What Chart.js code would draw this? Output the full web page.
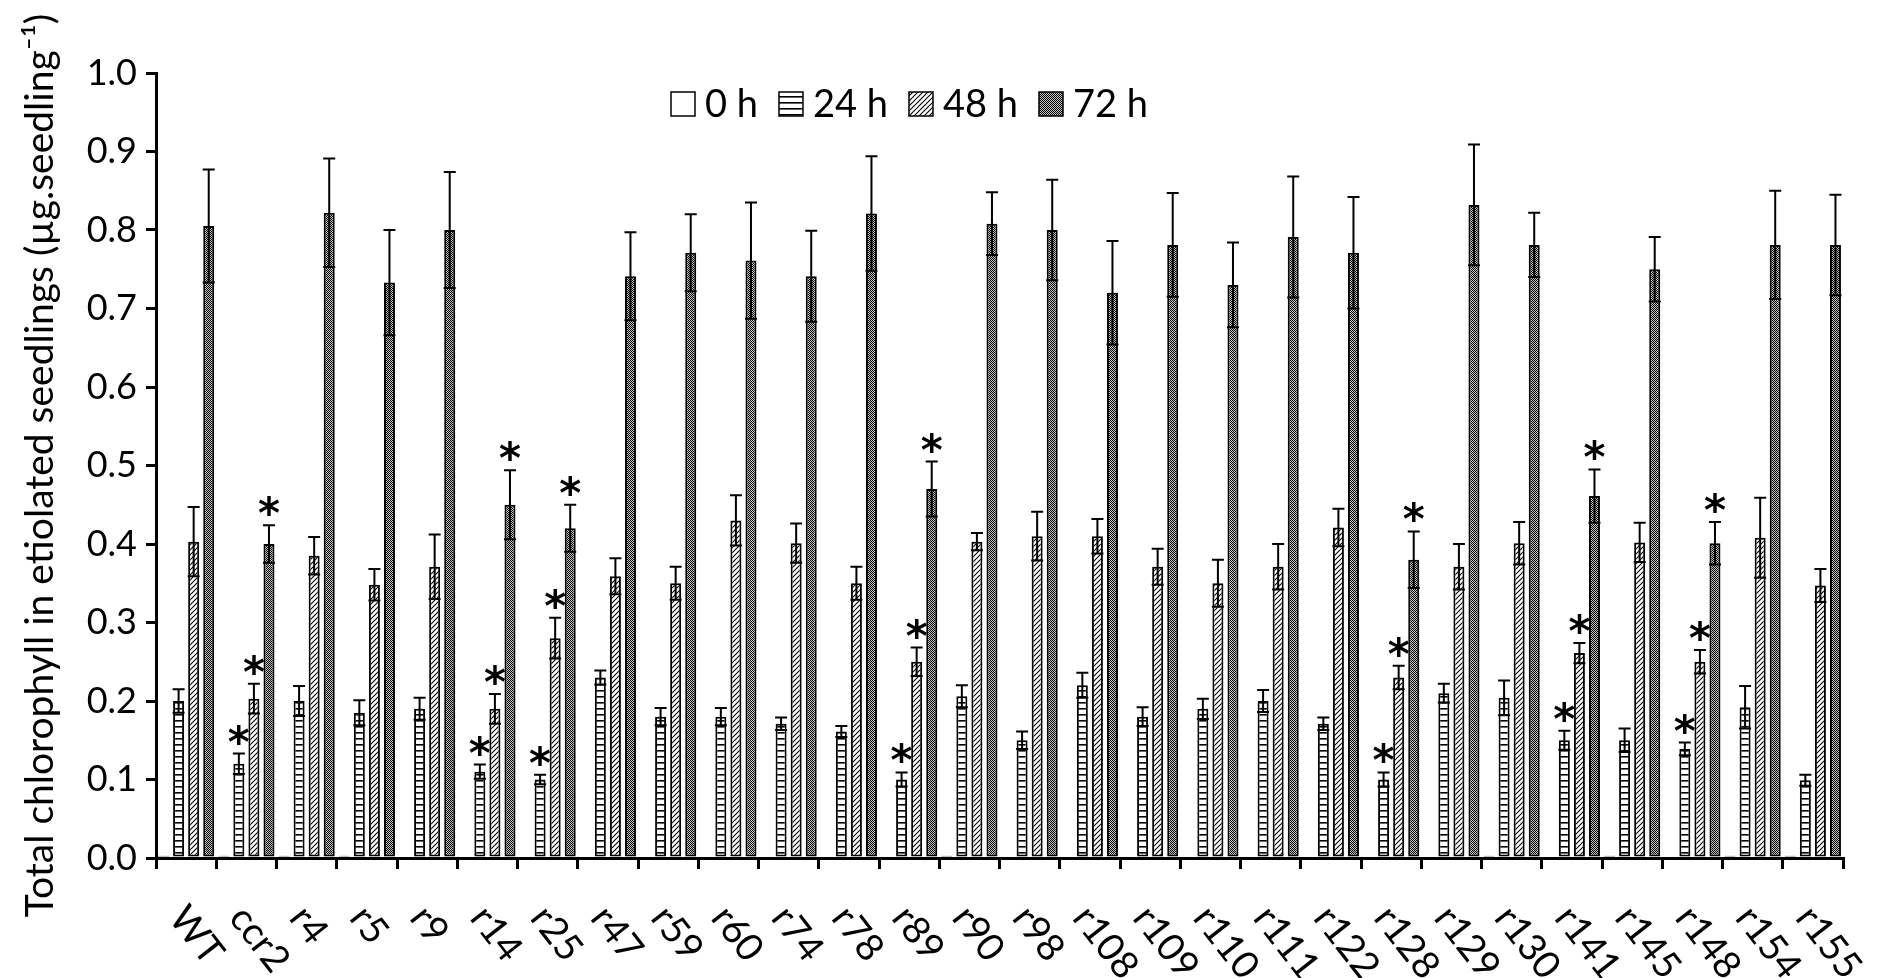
<!DOCTYPE html>
<html>
<head>
<meta charset="utf-8">
<script src="https://cdn.jsdelivr.net/npm/chart.js@4.4.1/dist/chart.umd.min.js"></script>
<style>
html,body{margin:0;padding:0;background:#fff;}
#wrap{width:1879px;height:978px;position:relative;}
</style>
</head>
<body>
<div id="wrap"><canvas id="c" width="1879" height="978"></canvas></div>
<script>
const categories = ['WT','ccr2','r4','r5','r9','r14','r25','r47','r59','r60','r74','r78','r89','r90','r98','r108','r109','r110','r111','r122','r128','r129','r130','r141','r145','r148','r154','r155'];
const seriesNames = ['0 h','24 h','48 h','72 h'];

const h0  = [0.003,0.003,0.003,0.003,0,0,0,0,0,0,0,0,0,0.003,0,0,0,0,0,0,0,0,0.003,0,0.003,0,0.003,0.003];

const h24 = [0.200,0.120,0.200,0.185,0.190,0.110,0.100,0.230,0.180,0.180,0.171,0.161,0.100,0.206,0.150,0.220,0.180,0.190,0.200,0.171,0.100,0.210,0.204,0.150,0.150,0.139,0.192,0.099];
const e24 = [0.015,0.013,0.019,0.016,0.014,0.009,0.006,0.009,0.011,0.011,0.008,0.007,0.009,0.014,0.011,0.016,0.012,0.013,0.014,0.008,0.009,0.012,0.022,0.012,0.015,0.008,0.027,0.007];

const h48 = [0.403,0.203,0.385,0.348,0.371,0.190,0.280,0.359,0.350,0.430,0.401,0.350,0.250,0.403,0.410,0.410,0.371,0.350,0.371,0.421,0.230,0.371,0.401,0.261,0.402,0.250,0.408,0.347];
const e48 = [0.044,0.019,0.024,0.020,0.041,0.019,0.026,0.023,0.021,0.032,0.025,0.021,0.018,0.011,0.031,0.022,0.023,0.030,0.029,0.024,0.015,0.029,0.027,0.013,0.025,0.015,0.051,0.021];

const h72 = [0.805,0.400,0.822,0.733,0.800,0.450,0.420,0.741,0.771,0.761,0.741,0.821,0.470,0.808,0.800,0.720,0.781,0.730,0.791,0.771,0.380,0.832,0.781,0.461,0.750,0.401,0.781,0.781];
const e72 = [0.072,0.024,0.069,0.067,0.074,0.044,0.030,0.056,0.049,0.074,0.058,0.073,0.035,0.040,0.064,0.066,0.066,0.054,0.077,0.071,0.036,0.077,0.041,0.034,0.041,0.027,0.069,0.064];

// significance markers (1 = asterisk)
const sig24 = [0,1,0,0,0,1,1,0,0,0,0,0,1,0,0,0,0,0,0,0,1,0,0,1,0,1,0,0];
const sig48 = [0,1,0,0,0,1,1,0,0,0,0,0,1,0,0,0,0,0,0,0,1,0,0,1,0,1,0,0];
const sig72 = [0,1,0,0,0,1,1,0,0,0,0,0,1,0,0,0,0,0,0,0,1,0,0,1,0,1,0,0];

const yTicks = [0,0.1,0.2,0.3,0.4,0.5,0.6,0.7,0.8,0.9,1.0];
const yTitle = 'Total chlorophyll in etiolated seedlings (\u00b5g.seedling\u207b\u00b9)';

// ---------- patterns ----------
function makeTile(w, h, draw) {
  const c = document.createElement('canvas');
  c.width = w; c.height = h;
  const g = c.getContext('2d');
  g.fillStyle = '#fff'; g.fillRect(0, 0, w, h);
  draw(g);
  return document.getElementById('c').getContext('2d').createPattern(c, 'repeat');
}
const patWhite = '#ffffff';
const patHoriz = makeTile(6, 6, g => { g.fillStyle = '#000'; g.fillRect(0, 0, 6, 1.6); });
const patDiag = makeTile(5, 5, g => {
  g.strokeStyle = '#000'; g.lineWidth = 1.1;
  g.beginPath();
  g.moveTo(-1, 6); g.lineTo(6, -1);
  g.moveTo(-1, 1); g.lineTo(1, -1);
  g.moveTo(4, 6); g.lineTo(6, 4);
  g.stroke();
});
const patDots = makeTile(2, 2, g => {
  g.fillStyle = '#c4c4c4'; g.fillRect(0, 0, 2, 2);
  g.fillStyle = '#000'; g.fillRect(0, 0, 1, 1); g.fillRect(1, 1, 1, 1);
});
const fills = [patWhite, patHoriz, patDiag, patDots];

const FONT = 'Lato';

const extras = {
  id: 'extras',
  beforeDraw(chart) {
    const ctx = chart.ctx;
    ctx.save(); ctx.fillStyle = '#fff'; ctx.fillRect(0, 0, chart.width, chart.height); ctx.restore();
  },
  afterDatasetsDraw(chart) {
    const ctx = chart.ctx;
    const ys = chart.scales.y;
    const errs = [null, e24, e48, e72];
    const sigs = [null, sig24, sig48, sig72];
    for (let d = 1; d < 4; d++) {
      const meta = chart.getDatasetMeta(d);
      const vals = chart.data.datasets[d].data;
      meta.data.forEach((bar, i) => {
        const v = vals[i], e = errs[d][i];
        const yt = ys.getPixelForValue(v + e);
        const yb = ys.getPixelForValue(v - e);
        ctx.save();
        ctx.strokeStyle = '#000';
        ctx.lineWidth = 2;
        ctx.beginPath();
        ctx.moveTo(bar.x, yb); ctx.lineTo(bar.x, yt);
        ctx.moveTo(bar.x - 6, yt); ctx.lineTo(bar.x + 6, yt);
        ctx.moveTo(bar.x - 6, yb); ctx.lineTo(bar.x + 6, yb);
        ctx.stroke();
        if (sigs[d][i]) {
          ctx.fillStyle = '#000';
          ctx.font = 'bold 42px "DejaVu Sans"';
          ctx.textAlign = 'center';
          ctx.textBaseline = 'alphabetic';
          ctx.fillText('*', bar.x, yt + 3);
        }
        ctx.restore();
      });
    }
  },
  afterDraw(chart) {
    const ctx = chart.ctx;
    const xs = chart.scales.x;
    // rotated category labels
    ctx.save();
    ctx.fillStyle = '#000';
    ctx.font = '38px ' + FONT;
    ctx.textAlign = 'left';
    ctx.textBaseline = 'middle';
    categories.forEach((c, i) => {
      const x = xs.getPixelForValue(i);
      ctx.save();
      ctx.translate(x - 9, xs.top + 53);
      ctx.rotate(52 * Math.PI / 180);
      ctx.fillText(c, 0, 0);
      ctx.restore();
    });
    ctx.restore();
    // legend
    ctx.save();
    ctx.font = '38px ' + FONT;
    ctx.textBaseline = 'middle';
    ctx.textAlign = 'left';
    let lx = 671;
    const ly = 104, bs = 24;
    seriesNames.forEach((name, k) => {
      ctx.fillStyle = fills[k];
      ctx.fillRect(lx, ly - bs / 2, bs, bs);
      ctx.strokeStyle = '#000'; ctx.lineWidth = 1.5;
      ctx.strokeRect(lx, ly - bs / 2, bs, bs);
      ctx.fillStyle = '#000';
      ctx.fillText(name, lx + bs + 10, ly + 1);
      lx += bs + 10 + ctx.measureText(name).width + 21;
    });
    ctx.restore();
  }
};

const datasets = [h0, h24, h48, h72].map((arr, k) => ({
  label: seriesNames[k],
  data: arr,
  backgroundColor: fills[k],
  borderColor: '#000',
  borderWidth: 2,
  borderSkipped: false,
  barPercentage: 0.73,
  categoryPercentage: 1.0
}));

new Chart(document.getElementById('c'), {
  type: 'bar',
  data: { labels: categories, datasets },
  plugins: [extras],
  options: {
    responsive: false,
    devicePixelRatio: 1,
    animation: false,
    layout: { padding: { top: 73, right: 36, left: 0, bottom: 0 } },
    plugins: { legend: { display: false }, tooltip: { enabled: false } },
    scales: {
      x: {
        afterFit: s => { s.height = 120; },
        grid: { display: true, offset: true, drawOnChartArea: false, drawTicks: true, tickLength: 11, color: '#000', lineWidth: 3 },
        border: { display: true, color: '#000', width: 3 },
        ticks: { display: false }
      },
      y: {
        min: 0, max: 1,
        afterFit: s => { s.width = 156; },
        afterBuildTicks: s => { s.ticks = yTicks.map(v => ({ value: v })); },
        grid: { display: true, drawOnChartArea: false, drawTicks: true, tickLength: 10, color: '#000', lineWidth: 3 },
        border: { display: true, color: '#000', width: 3 },
        ticks: { color: '#000', font: { family: FONT, size: 36 }, padding: 9, callback: v => Number(v).toFixed(1) },
        title: { display: true, text: yTitle, color: '#000', font: { family: FONT, size: 39 }, padding: { top: 17, bottom: 0 } }
      }
    }
  }
});
</script>
</body>
</html>
